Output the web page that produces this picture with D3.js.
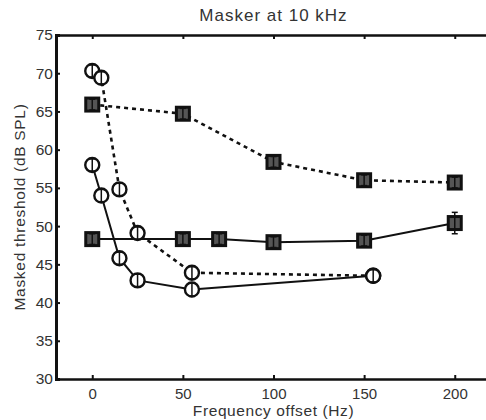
<!DOCTYPE html>
<html>
<head>
<meta charset="utf-8">
<script src="https://cdn.jsdelivr.net/npm/d3@7"></script>
<style>
  html, body { margin: 0; padding: 0; background: #fff; }
  svg { display: block; }
  text { font-family: "Liberation Sans", Arial, Helvetica, sans-serif; fill: #333; }
</style>
</head>
<body>
<div id="chart"></div>
<script>
// ---- data ----
const title = "Masker at 10 kHz";
const xLabel = "Frequency offset (Hz)";
const yLabel = "Masked threshold (dB SPL)";
const xTicks = [0, 50, 100, 150, 200];
const yTicks = [30, 35, 40, 45, 50, 55, 60, 65, 70, 75];

const circDashX = [0, 5, 15, 25, 55, 155];
const circDashY = [70.3, 69.4, 54.8, 49.1, 43.9, 43.5];
const circDashE = [0.8, 0.8, 0.8, 0.8, 0.8, 0.8];

const circSolidX = [0, 5, 15, 25, 55, 155];
const circSolidY = [58.0, 54.0, 45.8, 42.9, 41.7, 43.5];
const circSolidE = [0.8, 0.8, 0.8, 0.8, 0.9, 0.8];

const sqDashX = [0, 50, 100, 150, 200];
const sqDashY = [65.9, 64.7, 58.4, 56.0, 55.7];
const sqDashE = [0.7, 0.7, 0.7, 0.7, 0.7];

const sqSolidX = [0, 50, 70, 100, 150, 200];
const sqSolidY = [48.3, 48.3, 48.3, 47.9, 48.1, 50.4];
const sqSolidE = [0.7, 0.7, 0.7, 0.7, 0.7, 1.4];

// ---- layout ----
const W = 486, H = 420;
const mLeft = 56, mRight = 491, mTop = 35, mBottom = 379;

const svg = d3.select("#chart").append("svg").attr("width", W).attr("height", H);

const x = d3.scaleLinear().domain([-20, 220]).range([mLeft, mRight]);
const y = d3.scaleLinear().domain([30, 75]).range([mBottom, mTop]);

// axes (inward ticks, box)
const tickLen = 4;
const axB = svg.append("g").attr("transform", `translate(0,${mBottom})`)
  .call(d3.axisBottom(x).tickValues(xTicks).tickSize(-tickLen).tickPadding(9));
const axT = svg.append("g").attr("transform", `translate(0,${mTop})`)
  .call(d3.axisTop(x).tickValues(xTicks).tickSize(-tickLen).tickFormat(""));
const axL = svg.append("g").attr("transform", `translate(${mLeft},0)`)
  .call(d3.axisLeft(y).tickValues(yTicks).tickSize(-tickLen).tickPadding(3));
const axR = svg.append("g").attr("transform", `translate(${mRight},0)`)
  .call(d3.axisRight(y).tickValues(yTicks).tickSize(-tickLen).tickFormat(""));

[axB, axT, axL, axR].forEach(g => {
  g.select(".domain").attr("stroke", "#111").attr("stroke-width", 2.5);
  g.selectAll(".tick line").attr("stroke", "#111").attr("stroke-width", 2);
  g.selectAll(".tick text").attr("font-size", 15.5).attr("fill", "#555")
    .attr("font-family", "Liberation Sans, Arial, sans-serif");
});
axL.select(".domain").attr("stroke-width", 3);
axB.selectAll(".tick text").attr("font-size", 15);

// titles
svg.append("text").attr("x", (mLeft + mRight) / 2).attr("y", 21)
  .attr("text-anchor", "middle").attr("font-size", 17).attr("letter-spacing", 1)
  .attr("fill", "#444").text(title);
svg.append("text").attr("x", (mLeft + mRight) / 2).attr("y", 416)
  .attr("text-anchor", "middle").attr("font-size", 15.5).attr("letter-spacing", 0.6)
  .attr("fill", "#555").text(xLabel);
svg.append("text").attr("transform", `translate(25,207) rotate(-90)`)
  .attr("text-anchor", "middle").attr("font-size", 15.5).attr("letter-spacing", 0.7)
  .attr("fill", "#555").text(yLabel);

// series
const series = [
  { xs: circDashX, ys: circDashY, es: circDashE, marker: "circle", dash: "4,4" },
  { xs: circSolidX, ys: circSolidY, es: circSolidE, marker: "circle", dash: null },
  { xs: sqDashX, ys: sqDashY, es: sqDashE, marker: "square", dash: "4,4" },
  { xs: sqSolidX, ys: sqSolidY, es: sqSolidE, marker: "square", dash: null },
];

const line = d3.line().x(d => x(d[0])).y(d => y(d[1]));

series.forEach(s => {
  const pts = s.xs.map((v, i) => [v, s.ys[i], s.es[i]]);
  svg.append("path").datum(pts).attr("d", line)
    .attr("fill", "none").attr("stroke", "#111")
    .attr("stroke-width", s.dash ? 2.6 : 2)
    .attr("stroke-dasharray", s.dash);
});

series.forEach(s => {
  const pts = s.xs.map((v, i) => [v, s.ys[i], s.es[i]]);
  const g = svg.append("g");
  pts.forEach(p => {
    const cx = x(p[0]), cy = y(p[1]);
    if (s.marker === "circle") {
      g.append("circle").attr("cx", cx).attr("cy", cy).attr("r", 7)
        .attr("fill", "#fff").attr("stroke", "#111").attr("stroke-width", 2.4);
    } else {
      g.append("rect").attr("x", cx - 6.5).attr("y", cy - 6.5)
        .attr("width", 13).attr("height", 13)
        .attr("fill", "#555").attr("stroke", "#111").attr("stroke-width", 3);
    }
    // error bar
    const y1 = y(p[1] + p[2]), y2 = y(p[1] - p[2]);
    g.append("line").attr("x1", cx).attr("x2", cx).attr("y1", y1).attr("y2", y2)
      .attr("stroke", "#111").attr("stroke-width", 1.5);
    g.append("line").attr("x1", cx - 3).attr("x2", cx + 3).attr("y1", y1).attr("y2", y1)
      .attr("stroke", "#111").attr("stroke-width", 1.5);
    g.append("line").attr("x1", cx - 3).attr("x2", cx + 3).attr("y1", y2).attr("y2", y2)
      .attr("stroke", "#111").attr("stroke-width", 1.5);
  });
});
</script>
</body>
</html>
